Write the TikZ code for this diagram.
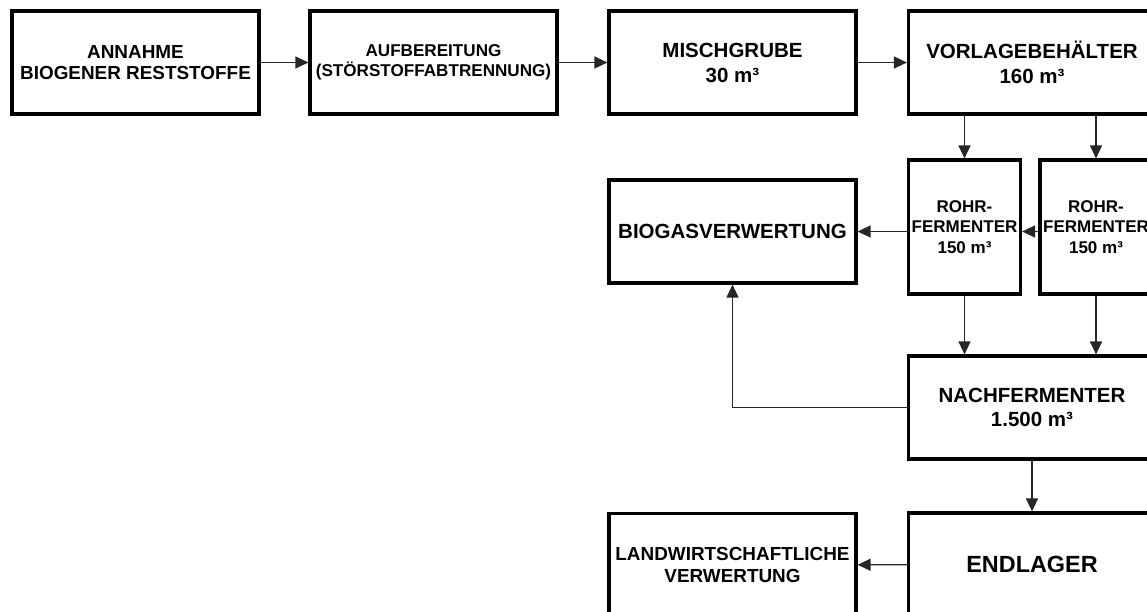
\documentclass[tikz,border=0pt]{standalone}
\usepackage{fontspec}
\setmainfont{Liberation Sans}
\usetikzlibrary{arrows.meta}
\newcommand\boxfont[2]{\bfseries\fontsize{#1}{#2}\selectfont}
\begin{document}
\begin{tikzpicture}[x=1pt,y=-1pt,
  box/.style={draw,line width=3.2pt,align=center,inner sep=0pt,minimum width=247pt,minimum height=103pt},
  rohr/.style={box,minimum width=112pt,minimum height=134pt,font=\boxfont{17}{20.5}},
  flow/.style={-{Triangle[length=13pt,width=12pt]},line width=1.3pt,black!85}]
\useasboundingbox (0,0) rectangle (1147,611);
\clip (0,0) rectangle (1147,611);

\node[box,font=\boxfont{18.9}{21}] (annahme) at (135.5,62.5) {ANNAHME\\BIOGENER RESTSTOFFE};
\node[box,font=\boxfont{17.1}{20}] (aufbereitung) at (433.5,62.5) {AUFBEREITUNG\\(STÖRSTOFFABTRENNUNG)};
\node[box,font=\boxfont{20.5}{25}] (mischgrube) at (732.5,62.5) {MISCHGRUBE\\30 m³};
\node[box,font=\boxfont{20.5}{25}] (vorlage) at (1032,62.5) {VORLAGEBEHÄLTER\\160 m³};
\node[rohr] (rohrA) at (964.5,227) {ROHR-\\FERMENTER\\150 m³};
\node[rohr] (rohrB) at (1096,227) {ROHR-\\FERMENTER\\150 m³};
\node[box,font=\boxfont{20.5}{25}] (biogas) at (732.5,231.5) {BIOGASVERWERTUNG};
\node[box,font=\boxfont{20.5}{24}] (nach) at (1032,407.5) {NACHFERMENTER\\1.500 m³};
\node[box,font=\boxfont{23.4}{28}] (endlager) at (1032,564.5) {ENDLAGER};
\node[box,font=\boxfont{18.9}{22}] (landw) at (732.5,565) {LANDWIRTSCHAFTLICHE\\VERWERTUNG};

\draw[flow] (annahme) -- (aufbereitung);
\draw[flow] (aufbereitung) -- (mischgrube);
\draw[flow] (mischgrube) -- (vorlage);
\draw[flow] (rohrA.north |- vorlage.south) -- (rohrA.north);
\draw[flow] (rohrB.north |- vorlage.south) -- (rohrB.north);
\draw[flow] (rohrB.west |- biogas) -- (rohrA.east |- biogas);
\draw[flow] (rohrA.west |- biogas) -- (biogas.east);
\draw[flow] (rohrA.south) -- (rohrA.south |- nach.north);
\draw[flow] (rohrB.south) -- (rohrB.south |- nach.north);
\draw[flow] (nach.west) -| (biogas.south);
\draw[flow] (nach) -- (endlager);
\draw[flow] (endlager) -- (landw);
\end{tikzpicture}
\end{document}
